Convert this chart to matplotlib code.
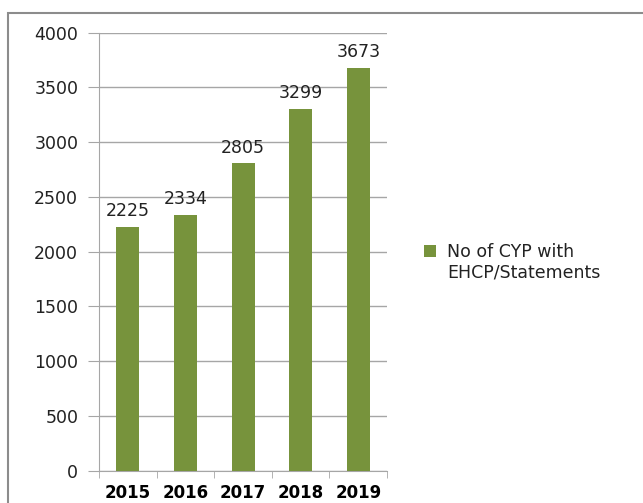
import matplotlib.pyplot as plt
from matplotlib.patches import Rectangle, Patch
import numpy as np

years = ['2015', '2016', '2017', '2018', '2019']
counts = [2225, 2334, 2805, 3299, 3673]
legend_lines = ['No of CYP with', 'EHCP/Statements']

bar_color = '#77933C'
grid_color = '#A6A6A6'
text_color = '#222222'

fig = plt.figure(figsize=(6.43, 5.03), dpi=100)
ax = fig.add_axes([0.154, 0.0646, 0.448, 0.8705])

x = np.arange(len(years))
bars = ax.bar(x, counts, width=0.4, color=bar_color, zorder=3)
for xi, v in zip(x, counts):
    ax.annotate(str(v), (xi, v), xytext=(0, 5), textcoords='offset points',
                ha='center', va='bottom', fontsize=12.5, color=text_color)

ax.set_xlim(-0.5, len(years) - 0.5)
ax.set_ylim(0, 4000)
ax.set_yticks(range(0, 4001, 500))
ax.tick_params(axis='y', labelsize=12.5, length=8, color=grid_color, pad=7,
               labelcolor=text_color)

ax.set_xticks(x)
ax.set_xticklabels(years, fontsize=12, fontweight='bold')
ax.tick_params(axis='x', which='major', length=0, pad=10)
ax.set_xticks(np.arange(-0.5, len(years)), minor=True)
ax.tick_params(axis='x', which='minor', length=5, color=grid_color)

ax.grid(axis='y', color=grid_color, linewidth=1, zorder=0)
for s in ['top', 'right']:
    ax.spines[s].set_visible(False)
for s in ['left', 'bottom']:
    ax.spines[s].set_color(grid_color)

# second legend row carries only the wrapped text, no swatch
ax.legend([bars, Patch(visible=False)], legend_lines,
          loc='center left', bbox_to_anchor=(1.075, 0.475), frameon=False,
          fontsize=12.5, handlelength=0.7, handleheight=0.7,
          handletextpad=0.6, labelspacing=0.15, labelcolor=text_color)

fig.patches.append(Rectangle((8 / 643, -0.1), 1.2, 1 - 13 / 503 + 0.1,
                             transform=fig.transFigure, fill=False,
                             edgecolor='#8C8C8C', linewidth=1.5))

fig.savefig('out.png', dpi=100)
